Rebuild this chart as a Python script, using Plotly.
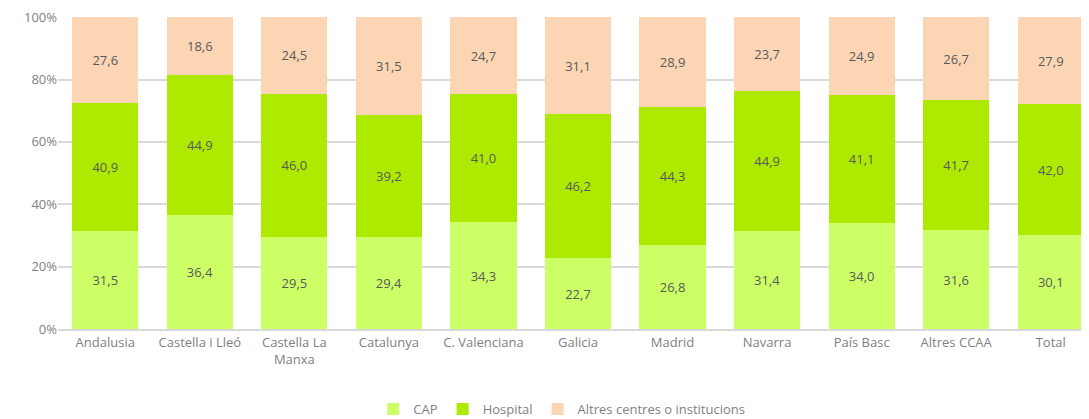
import plotly.graph_objects as go

categories = ["Andalusia", "Castella i Lleó", "Castella La<br>Manxa", "Catalunya", "C. Valenciana",
              "Galicia", "Madrid", "Navarra", "País Basc", "Altres CCAA", "Total"]
cap = [31.5, 36.4, 29.5, 29.4, 34.3, 22.7, 26.8, 31.4, 34.0, 31.6, 30.1]
hospital = [40.9, 44.9, 46.0, 39.2, 41.0, 46.2, 44.3, 44.9, 41.1, 41.7, 42.0]
altres = [27.6, 18.6, 24.5, 31.5, 24.7, 31.1, 28.9, 23.7, 24.9, 26.7, 27.9]
y_ticks = [0, 20, 40, 60, 80, 100]
y_tick_labels = ["0%", "20%", "40%", "60%", "80%", "100%"]

def fmt(v):
    return [f"{x:.1f}".replace(".", ",") for x in v]

series = [("CAP", cap, "#CCFF66"), ("Hospital", hospital, "#AEEA00"),
          ("Altres centres o institucions", altres, "#FCD5B5")]

fig = go.Figure()
for name, vals, col in series:
    fig.add_trace(go.Bar(
        x=categories, y=vals, name=name, marker=dict(color=col, line=dict(width=0)),
        text=fmt(vals), textposition="inside", insidetextanchor="middle",
        textfont=dict(color="#595959", size=13, family="Open Sans"),
        hoverinfo="skip"))

fig.update_layout(
    barmode="stack", bargap=0.3,
    width=1090, height=411,
    margin=dict(l=50, r=0, t=9, b=90, autoexpand=False),
    paper_bgcolor="white", plot_bgcolor="white",
    font=dict(family="Open Sans", color="#7f7f7f", size=13),
    uniformtext=dict(minsize=13, mode="show"),
    legend=dict(orientation="h", x=0.508, xanchor="center", xref="container",
                y=0.024, yanchor="middle", yref="container",
                font=dict(size=13, color="#7f7f7f"), itemwidth=30, traceorder="normal"),
    showlegend=True,
)
fig.update_yaxes(range=[0, 100.05], tickvals=y_ticks, ticktext=y_tick_labels, automargin=False,
                 ticklabeloverflow="allow",
                 showgrid=True, gridcolor="#d9d9d9", gridwidth=2, zeroline=False,
                 showline=False, ticks="", tickfont=dict(size=13, color="#7f7f7f"))
fig.update_xaxes(showline=True, linecolor="#d9d9d9", linewidth=2, ticks="", automargin=False,
                 tickfont=dict(size=13, color="#7f7f7f"), tickangle=0)
fig.write_html("out.html")
